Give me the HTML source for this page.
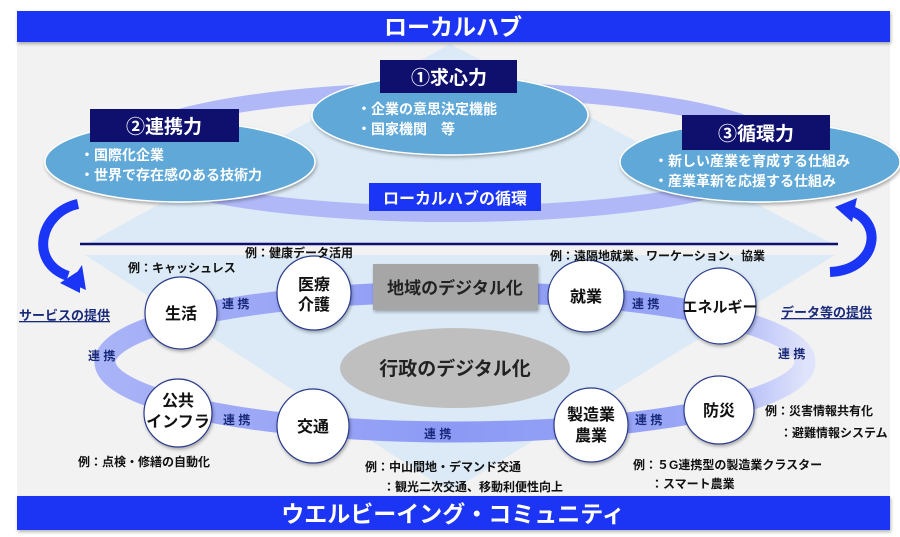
<!DOCTYPE html>
<html><head><meta charset="utf-8"><style>
html,body{margin:0;padding:0;background:#fff;width:900px;height:537px;overflow:hidden}
svg text{font-family:"Liberation Sans","Noto Sans CJK JP",sans-serif;font-weight:bold}
</style></head><body>
<svg width="900" height="537" viewBox="0 0 900 537" xmlns="http://www.w3.org/2000/svg">
<defs>
<linearGradient id="ring2" x1="0" x2="1" y1="0" y2="0">
<stop offset="0" stop-color="#a9b3f7"/><stop offset="0.5" stop-color="#8c9af5"/><stop offset="0.85" stop-color="#9aa6f6"/><stop offset="1" stop-color="#dfe3fb"/>
</linearGradient>
<filter id="sh" x="-20%" y="-20%" width="140%" height="140%"><feDropShadow dx="1" dy="2" stdDeviation="1.5" flood-color="#000" flood-opacity="0.3"/></filter>
</defs>
<rect x="17" y="40" width="873" height="458" fill="#f2f2f2"/>
<polygon points="450,44 85,245 835,245" fill="#dbeaf6"/>
<polygon points="85,255 835,255 450,492" fill="#dbeaf6"/>
<rect x="17" y="11" width="873" height="31" fill="#1a35f5" filter="url(#sh)"/>
<text x="453" y="35" font-size="23" fill="#fff" text-anchor="middle">ローカルハブ</text>
<ellipse cx="452" cy="152" rx="330" ry="62" fill="none" stroke="#b0b8f8" stroke-width="16"/>
<ellipse cx="450" cy="115" rx="138" ry="40" fill="#5ea8d8" stroke="#fff" stroke-width="1.5" filter="url(#sh)"/>
<ellipse cx="180" cy="162" rx="135" ry="40" fill="#5ea8d8" stroke="#fff" stroke-width="1.5" filter="url(#sh)"/>
<ellipse cx="760" cy="162" rx="140" ry="40" fill="#5ea8d8" stroke="#fff" stroke-width="1.5" filter="url(#sh)"/>
<rect x="380" y="60" width="137" height="33" fill="#0f0f6e"/>
<text x="449" y="84" font-size="19" fill="#fff" text-anchor="middle">①求心力</text>
<rect x="90" y="109" width="149" height="33" fill="#0f0f6e"/>
<text x="164" y="133" font-size="19" fill="#fff" text-anchor="middle">②連携力</text>
<rect x="682" y="115" width="148" height="35" fill="#0f0f6e"/>
<text x="756" y="140" font-size="19" fill="#fff" text-anchor="middle">③循環力</text>
<g font-size="14" fill="#fff">
<text x="357" y="114">・企業の意思決定機能</text>
<text x="357" y="134">・国家機関　等</text>
<text x="80" y="160">・国際化企業</text>
<text x="80" y="180">・世界で存在感のある技術力</text>
<text x="654" y="166">・新しい産業を育成する仕組み</text>
<text x="654" y="186">・産業革新を応援する仕組み</text>
</g>
<rect x="369" y="183" width="172" height="28" fill="#1a35f5"/>
<text x="455" y="204" font-size="16" fill="#fff" text-anchor="middle">ローカルハブの循環</text>
<path d="M78,204 C40,212 28,262 68,276" fill="none" stroke="#1a35f5" stroke-width="10"/>
<polygon points="60,283 80,270 80,293" fill="#1a35f5"/>
<polygon points="70,283 82,265 86,290" fill="#1a35f5"/>
<path d="M830,272 C878,270 885,220 848,210" fill="none" stroke="#1a35f5" stroke-width="10"/>
<polygon points="835,207 857,198 852,222" fill="#1a35f5"/>
<line x1="80" y1="244" x2="838" y2="244" stroke="#0f0f6e" stroke-width="2.5"/>
<ellipse cx="455" cy="362" rx="350" ry="70" fill="none" stroke="url(#ring2)" stroke-width="21"/>
<rect x="373" y="264" width="165" height="46" fill="#a6a6a6" filter="url(#sh)"/>
<text x="455" y="294" font-size="17" fill="#222" text-anchor="middle">地域のデジタル化</text>
<ellipse cx="455" cy="368" rx="115" ry="40" fill="#bfbfbf"/>
<text x="455" y="375" font-size="19" fill="#222" text-anchor="middle">行政のデジタル化</text>
<g fill="#fff" stroke="#2a3a8a" stroke-width="1.2" filter="url(#sh)">
<ellipse cx="181" cy="313" rx="36" ry="36"/>
<ellipse cx="314" cy="293" rx="37" ry="37"/>
<ellipse cx="586" cy="296" rx="38" ry="36"/>
<ellipse cx="720" cy="306" rx="36" ry="38"/>
<ellipse cx="178" cy="413" rx="34" ry="34"/>
<ellipse cx="313" cy="426" rx="36" ry="37"/>
<ellipse cx="591" cy="425" rx="37" ry="37"/>
<ellipse cx="719" cy="410" rx="35" ry="34"/>
</g>
<g font-size="16" fill="#111" text-anchor="middle">
<text x="181" y="319">生活</text>
<text x="314" y="290">医療</text><text x="314" y="310">介護</text>
<text x="586" y="302">就業</text>
<text x="720" y="312" font-size="15">エネルギー</text>
<text x="178" y="406">公共</text><text x="178" y="427">インフラ</text>
<text x="313" y="432">交通</text>
<text x="591" y="420">製造業</text><text x="591" y="441">農業</text>
<text x="719" y="416">防災</text>
</g>
<g font-size="12" fill="#1a2a7a" font-weight="normal">
<text x="222" y="308">連 携</text>
<text x="632" y="308">連 携</text>
<text x="88" y="360">連 携</text>
<text x="778" y="358">連 携</text>
<text x="223" y="424">連 携</text>
<text x="635" y="424">連 携</text>
<text x="424" y="438">連 携</text>
</g>
<g font-size="12" fill="#111">
<text x="128" y="272">例：キャッシュレス</text>
<text x="245" y="257">例：健康データ活用</text>
<text x="550" y="260">例：遠隔地就業、ワーケーション、協業</text>
<text x="78" y="466">例：点検・修繕の自動化</text>
<text x="365" y="471">例：中山間地・デマンド交通</text>
<text x="383" y="491">：観光二次交通、移動利便性向上</text>
<text x="633" y="469">例：５G連携型の製造業クラスター</text>
<text x="651" y="488">：スマート農業</text>
<text x="765" y="415">例：災害情報共有化</text>
<text x="780" y="437">：避難情報システム</text>
</g>
<g font-size="13" fill="#1a2a7a" text-decoration="underline">
<text x="19" y="320">サービスの提供</text>
<text x="781" y="317">データ等の提供</text>
</g>
<rect x="17" y="496" width="873" height="34" fill="#1a35f5" filter="url(#sh)"/>
<text x="453" y="522" font-size="23" fill="#fff" text-anchor="middle">ウエルビーイング・コミュニティ</text>
</svg>
</body></html>
